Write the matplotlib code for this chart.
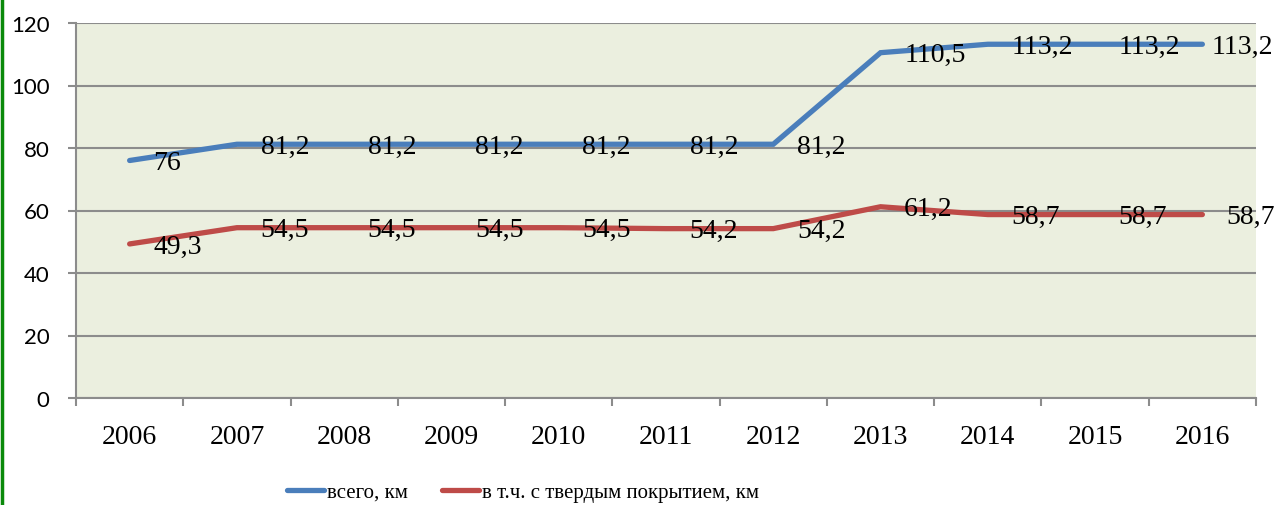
import matplotlib.pyplot as plt
import matplotlib.lines as mlines

# data
years = ['2006', '2007', '2008', '2009', '2010', '2011', '2012', '2013', '2014', '2015', '2016']
total_km = [76, 81.2, 81.2, 81.2, 81.2, 81.2, 81.2, 110.5, 113.2, 113.2, 113.2]
paved_km = [49.3, 54.5, 54.5, 54.5, 54.5, 54.2, 54.2, 61.2, 58.7, 58.7, 58.7]
series_names = ['всего, км', 'в т.ч. с твердым покрытием, км']
y_ticks = [0, 20, 40, 60, 80, 100, 120]

blue = '#4A7EBB'
red = '#BE4B48'
grid_col = '#8C8C8C'
serif = 'Liberation Serif'

fig = plt.figure(figsize=(12.81, 5.06), dpi=100)
ax = fig.add_axes([76 / 1281, 1 - 399 / 506, 1180 / 1281, 375 / 506])
ax.set_facecolor('#EBEFDF')

x = range(len(years))
ax.plot(x, total_km, color=blue, lw=3.8, solid_capstyle='round', solid_joinstyle='miter',
        label=series_names[0], zorder=3)
ax.plot(x, paved_km, color=red, lw=3.8, solid_capstyle='round', solid_joinstyle='miter',
        label=series_names[1], zorder=3)

#data labels to the right of each point
def fmt(v):
    return ('%g' % v).replace('.', ',')

for vals in (total_km, paved_km):
    for i, v in enumerate(vals):
        dx = 17
        # last label of the upper line is pushed in to stay inside the picture
        if vals is total_km and i == len(vals) - 1:
            dx = 7
        ax.annotate(fmt(v), (i, v), xytext=(dx, -1.5), textcoords='offset points',
                    ha='left', va='center', fontsize=20, family=serif,
                    annotation_clip=False, zorder=4)

ax.set_xlim(-0.5, len(years) - 0.5)
ax.set_ylim(0, 120)
ax.set_yticks(y_ticks)
ax.set_yticklabels([str(t) for t in y_ticks], fontsize=16, family='Lato')
ax.set_xticks([i + 0.5 for i in range(-1, len(years))], minor=False)
ax.set_xticklabels([])
ax.set_xticks(list(x), minor=True)
ax.set_xticklabels(years, minor=True, fontsize=20, family=serif)

ax.tick_params(axis='y', length=6, width=1.5, color=grid_col, pad=13)
ax.tick_params(axis='x', which='major', length=6, width=1.5, color=grid_col, direction='out')
ax.tick_params(axis='x', which='minor', length=0, pad=19)

ax.grid(axis='y', color=grid_col, lw=1.5, zorder=1)
ax.set_axisbelow(True)
for side in ('top', 'right'):
    ax.spines[side].set_visible(False)
for side in ('left', 'bottom'):
    ax.spines[side].set_color(grid_col)
    ax.spines[side].set_linewidth(1.5)

leg = fig.legend(loc='center', bbox_to_anchor=(523 / 1281, 1 - 493 / 506), ncol=2,
                 frameon=False, prop={'family': serif, 'size': 15},
                 handlelength=1.8, handletextpad=0.15, columnspacing=1.6)

# green border on the left edge
fig.add_artist(mlines.Line2D([0.0012, 0.0012], [0, 1], color='#0A8A0A', lw=2.5,
                             transform=fig.transFigure))

fig.savefig('out.png', dpi=100)
